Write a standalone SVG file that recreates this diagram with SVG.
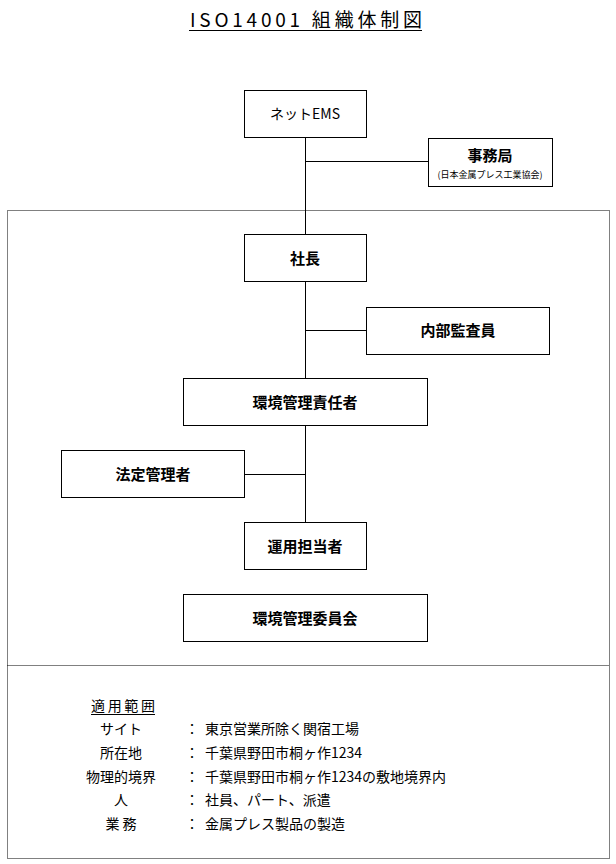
<svg xmlns="http://www.w3.org/2000/svg" width="616" height="864" viewBox="0 0 616 864">
<style>
text{font-family:"Noto Sans CJK JP","Liberation Sans",sans-serif;fill:#000}
.box{fill:#fff;stroke:#000;stroke-width:1}
.b{font-size:15px;font-weight:bold;text-anchor:middle}
.l{font-size:14px}
.c{text-anchor:middle}
.ln{stroke:#000;stroke-width:1;fill:none}
.dot{stroke:#000;stroke-width:1;stroke-dasharray:1 1;fill:none}
</style>
<rect width="616" height="864" fill="#fff"/>
<text x="190" y="27" font-size="19" textLength="232" lengthAdjust="spacing">ISO14001 組織体制図</text>
<line x1="189" y1="30.5" x2="422" y2="30.5" class="ln"/>
<rect x="7.5" y="210.5" width="602" height="648" class="dot"/>
<line x1="7.5" y1="665.5" x2="609.5" y2="665.5" class="dot"/>
<g id="connectors">
<line x1="305.5" y1="137" x2="305.5" y2="522" class="ln"/>
<line x1="305" y1="161.5" x2="428" y2="161.5" class="ln"/>
<line x1="305" y1="330.5" x2="366" y2="330.5" class="ln"/>
<line x1="244" y1="474.5" x2="305" y2="474.5" class="ln"/>
</g>
<g id="n1"><rect x="244.5" y="90.5" width="122" height="47" class="box"/><text x="305" y="119" class="c" font-size="14">ネットEMS</text></g>
<g id="n2"><rect x="428.5" y="138.5" width="124" height="48" class="box"/><text x="490" y="161" class="b">事務局</text><text x="490" y="178" class="c" font-size="9">(日本金属プレス工業協会)</text></g>
<g id="n3"><rect x="244.5" y="234.5" width="122" height="47" class="box"/><text x="305" y="264" class="b">社長</text></g>
<g id="n4"><rect x="366.5" y="307.5" width="183" height="47" class="box"/><text x="458" y="336" class="b">内部監査員</text></g>
<g id="n5"><rect x="183.5" y="378.5" width="244" height="47" class="box"/><text x="305" y="408" class="b">環境管理責任者</text></g>
<g id="n6"><rect x="61.5" y="450.5" width="183" height="47" class="box"/><text x="153" y="480" class="b">法定管理者</text></g>
<g id="n7"><rect x="244.5" y="522.5" width="122" height="47" class="box"/><text x="305" y="552" class="b">運用担当者</text></g>
<g id="n8"><rect x="183.5" y="594.5" width="244" height="47" class="box"/><text x="305" y="624" class="b">環境管理委員会</text></g>
<g id="scope" class="l">
<text x="91" y="711" class="l" textLength="64">適用範囲</text>
<line x1="91" y1="714.5" x2="155" y2="714.5" class="ln"/>
<text x="121" y="734" class="c l">サイト</text>
<text x="121" y="758" class="c l">所在地</text>
<text x="121" y="782" class="c l">物理的境界</text>
<text x="121" y="805" class="c l">人</text>
<text x="121" y="829" class="c l">業 務</text>
<text x="185" y="734" class="l">：</text>
<text x="185" y="758" class="l">：</text>
<text x="185" y="782" class="l">：</text>
<text x="185" y="805" class="l">：</text>
<text x="185" y="829" class="l">：</text>
<text x="205" y="734" class="l">東京営業所除く関宿工場</text>
<text x="205" y="758" class="l">千葉県野田市桐ヶ作1234</text>
<text x="205" y="782" class="l">千葉県野田市桐ヶ作1234の敷地境界内</text>
<text x="205" y="805" class="l">社員、パート、派遣</text>
<text x="205" y="829" class="l">金属プレス製品の製造</text>
</g>
</svg>
